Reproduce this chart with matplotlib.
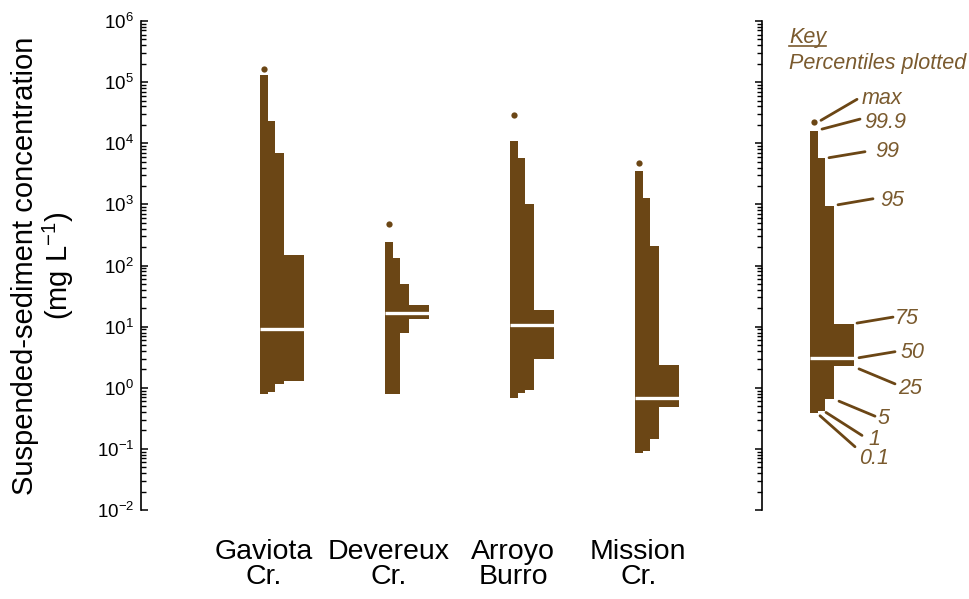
import matplotlib
matplotlib.use('Agg')
import matplotlib.pyplot as plt
from matplotlib.lines import Line2D
from matplotlib.text import OffsetFrom
from matplotlib.transforms import IdentityTransform
import numpy as np

plt.rcParams['font.family'] = 'Liberation Sans'
plt.rcParams['mathtext.fontset'] = 'custom'
plt.rcParams['mathtext.rm'] = 'Liberation Sans'
plt.rcParams['mathtext.it'] = 'Liberation Sans:italic'
plt.rcParams['mathtext.default'] = 'regular'

# percentiles of suspended-sediment concentration (mg/L) at each creek
sites = ['Gaviota\nCr.', 'Devereux\nCr.', 'Arroyo\nBurro', 'Mission\nCr.']
p0_1 = [0.80, 0.79, 0.68, 0.086]
p1 = [0.84, 0.79, 0.82, 0.093]
p5 = [1.16, 7.9, 0.92, 0.146]
p25 = [1.30, 13.4, 2.97, 0.49]
p50 = [9.0, 17.0, 10.5, 0.69]
p75 = [148, 22.5, 18.6, 2.34]
p95 = [6900, 50, 1000, 208]
p99 = [23000, 132, 5700, 1270]
p99_9 = [131000, 241, 10900, 3500]
pmax = [164000, 471, 28600, 4700]

# example distribution used for the key
key_vals = {'0.1': 0.39, '1': 0.41, '5': 0.65, '25': 2.28, '50': 3.1,
            '75': 11.0, '95': 949, '99': 5800, '99.9': 15800, 'max': 22000}

brown = '#6b4615'
text_brown = '#7a5a2e'

# bar widths: 0.1-99.9, 1-99, 5-95, 25-75 (all start at the same left edge)
widths = [0.064, 0.12, 0.192, 0.352]
shift = -0.028


def draw_percentiles(axis, x0, lo, hi, med, top):
    # widest (inter-quartile) first, narrowest last
    for w, b, t in zip(widths[::-1], lo[::-1], hi[::-1]):
        axis.bar(x0, t - b, bottom=b, width=w, align='edge',
                 color=brown, linewidth=0)
    axis.hlines(med, x0, x0 + widths[-1], color='white', lw=2.4)
    axis.plot(x0 + widths[0] / 2, top, 'o', color=brown, ms=4.5, mec='none')


fig = plt.figure(figsize=(9.7, 5.99), dpi=100)
ax = fig.add_axes([141 / 970, 1 - 510 / 599, 621 / 970, 489 / 599])
key_ax = fig.add_axes([762 / 970, 1 - 510 / 599, 208 / 970, 489 / 599])

x = np.arange(1, len(sites) + 1)
for i in range(len(sites)):
    draw_percentiles(ax, x[i] + shift,
                     [p0_1[i], p1[i], p5[i], p25[i]],
                     [p99_9[i], p99[i], p95[i], p75[i]],
                     p50[i], pmax[i])

ax.set_yscale('log')
ax.set_xlim(0.02, 4.99)
ax.set_xticks(x)
ax.set_xticklabels(sites, fontsize=20.5, linespacing=0.95)
ax.tick_params(axis='x', length=0, pad=21)

decades = 10.0 ** np.arange(-2, 7)
minor_locs = np.outer(decades[:-1], np.arange(2, 10)).ravel()
ax.set_yticks(decades)
ax.set_yticks(minor_locs, minor=True)
ax.set_ylim(1e-2, 1e6)
ax.tick_params(axis='y', which='major', direction='in', left=True, right=True,
               labelsize=13.5, pad=5, width=1.1, length=5)
ax.tick_params(axis='y', which='minor', direction='in', left=True, right=True,
               width=1.0, length=3.5, color='black')
for side in ['top', 'bottom']:
    ax.spines[side].set_visible(False)
for side in ['left', 'right']:
    ax.spines[side].set_linewidth(1.2)

ax.set_ylabel('Suspended-sediment concentration\n(mg L$^{-1}$)', fontsize=21, linespacing=1.05)
ax.yaxis.set_label_coords(-0.105, 0.5)

# key, drawn on the same log scale as the main panel
kx = 0.384
draw_percentiles(key_ax, kx,
                 [key_vals['0.1'], key_vals['1'], key_vals['5'], key_vals['25']],
                 [key_vals['99.9'], key_vals['99'], key_vals['95'], key_vals['75']],
                 key_vals['50'], key_vals['max'])
key_ax.set_yscale('log')
key_ax.set_ylim(1e-2, 1e6)
key_ax.set_xlim(0, 1.664)
key_ax.axis('off')

# leader lines: anchor on the key bar, then start, end and label offsets in pixels
key_edges = {'max': kx + widths[0] / 2, '99.9': kx + widths[0], '99': kx + widths[1],
             '95': kx + widths[2], '75': kx + widths[3], '50': kx + widths[3],
             '25': kx + widths[3], '5': kx + widths[2], '1': kx + widths[1],
             '0.1': kx + widths[0]}
leaders = {
    'max': ((7, 2), (43, 23), (48, 24)),
    '99.9': ((4, 2), (42, 12), (46, 9)),
    '99': ((4, 0), (40, 6), (50, 6)),
    '95': ((4, 1), (39, 7), (46, 5)),
    '75': ((3, 1), (39, 7), (41, 6)),
    '50': ((5, 0), (41, 6), (47, 5)),
    '25': ((5, -3), (41, -18), (44, -23)),
    '5': ((5, -2), (41, -17), (44, -19)),
    '1': ((1, -1), (37, -24), (43, -28)),
    '0.1': ((2, -3), (37, -34), (41, -46)),
}
for name, (start, end, lab) in leaders.items():
    anchor = OffsetFrom(key_ax.transData, (key_edges[name], key_vals[name]), unit='pixels')
    key_ax.annotate('', xy=start, xycoords=anchor, xytext=end, textcoords=anchor,
                    arrowprops=dict(arrowstyle='-', color=brown, lw=2,
                                    shrinkA=0, shrinkB=0))
    key_ax.annotate(name, xy=(key_edges[name], key_vals[name]), xytext=lab,
                    textcoords='offset pixels', ha='left', va='center',
                    fontsize=15.5, style='italic', color=text_brown)

key_title = key_ax.text(0.13, 0.954, 'Key', transform=key_ax.transAxes, fontsize=15.5,
                        style='italic', color=text_brown, va='baseline')
key_ax.text(0.13, 0.901, 'Percentiles plotted', transform=key_ax.transAxes, fontsize=15.5,
            style='italic', color=text_brown, va='baseline')

fig.canvas.draw()
bb = key_title.get_window_extent()
base_y = key_ax.transAxes.transform((0, 0.954))[1] - 3
fig.add_artist(Line2D([bb.x0, bb.x1], [base_y, base_y], transform=IdentityTransform(),
                      color=text_brown, lw=1.2))

fig.savefig('out.png', dpi=100)
